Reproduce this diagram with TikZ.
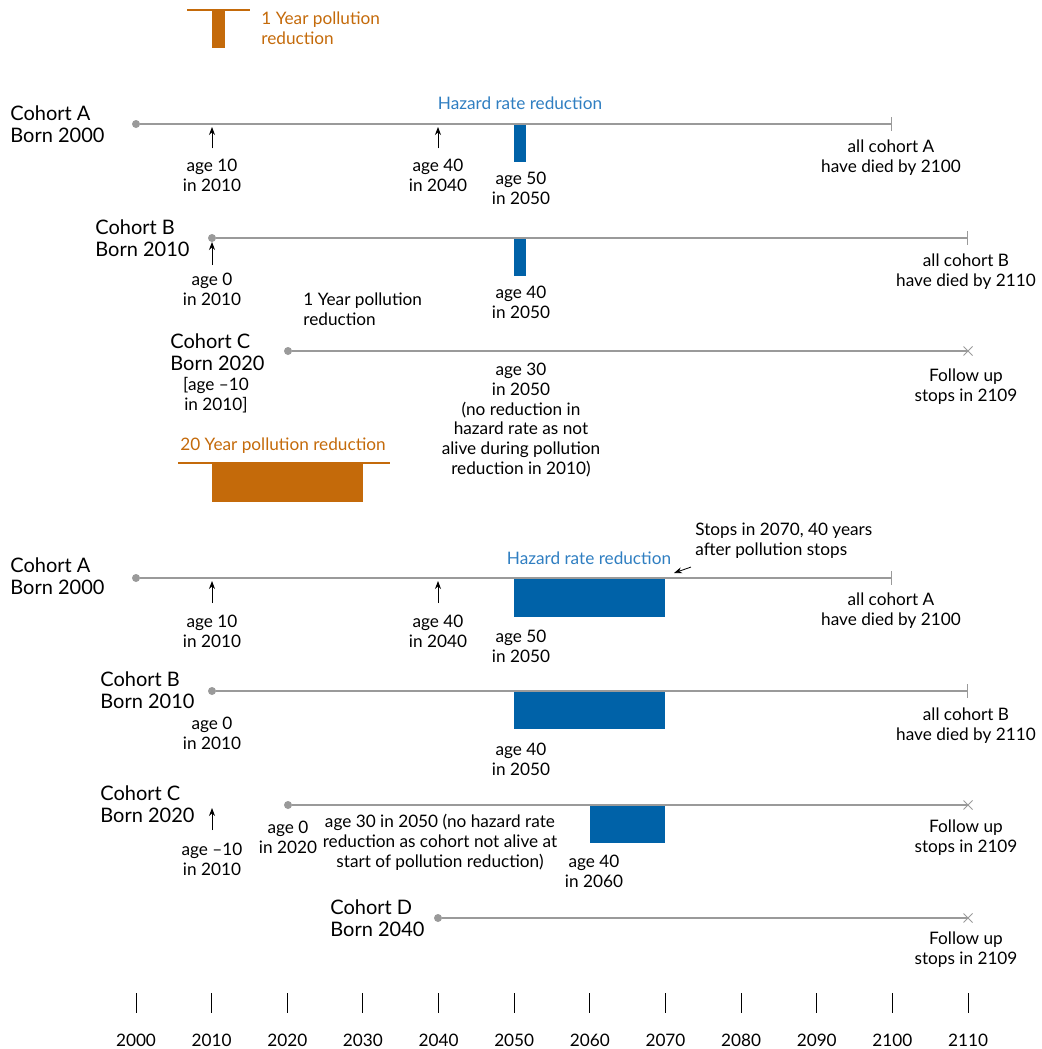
\documentclass[tikz,border=0pt]{standalone}
\usepackage{fontspec}
\setmainfont{Lato}
\usepackage{tikz}
\usetikzlibrary{arrows.meta, positioning, shapes.misc}
\definecolor{pollorange}{HTML}{C46A0A}
\definecolor{hazblue}{HTML}{0062A8}
\definecolor{hazlabel}{HTML}{2F7EC1}
\definecolor{lifegrey}{HTML}{9A9A9A}
\tikzset{>/.tip={Stealth[length=4pt,width=3pt]}}
\tikzset{|/.tip={Bar[width=7pt,line width=0.6pt]}}
\tikzset{
  cohort/.style={anchor=west, align=left, inner sep=0pt, font=\fontsize{10}{11}\selectfont},
  note/.style={align=center, inner sep=0pt, font=\fontsize{8.6}{9.9}\selectfont},
  lifeline/.style={draw=lifegrey, line width=0.6pt},
  born/.style={circle, fill=lifegrey, inner sep=0pt, minimum size=4pt},
  stopx/.style={cross out, draw=lifegrey, line width=0.5pt, inner sep=0pt, minimum size=4pt},
  hazard/.style={fill=hazblue},
  pollution/.style={fill=pollorange},
}

\begin{document}
\begin{tikzpicture}[x=0.5pt, y=-0.5pt]
\useasboundingbox (0,0) rectangle (1041,1049);

% one year of pollution
\draw[pollorange, line width=1pt] (187,10) -- (250,10);
\fill[pollution] (212,11) rectangle (225,48);
\node[note, anchor=west, align=left, text=pollorange] (py1) at (261,28) {1 Year pollution\\reduction};

% cohort A
\node[cohort] (ta) at (10,124) {Cohort A\\Born 2000};
\node[born] (ta0) at (136,124) {};
\coordinate (ta1) at (892,124);
\draw[lifeline, -|] (ta0) -- (ta1);
\node[note, text=hazlabel] (th) at (520,103) {Hazard rate reduction};
\node[note] (ta10) at (212,175) {age 10\\in 2010};
\node[note] (ta40) at (438,175) {age 40\\in 2040};
\draw[->] (ta10.north) ++(0,-10) coordinate (ta10p) -- (212,127);
\draw[->] (ta40.north) ++(0,-10) coordinate (ta40p) -- (438,127);
\fill[hazard] (514,125) rectangle (526,162);
\node[note] (ta50) at (521,188) {age 50\\in 2050};
\node[note] (taend) at (891,158) {all cohort A\\have died by 2100};

% cohort B
\node[cohort] (tb) at (95,238) {Cohort B\\Born 2010};
\node[born] (tb0) at (212,238) {};
\coordinate (tb1) at (968,238);
\draw[lifeline, -|] (tb0) -- (tb1);
\node[note] (tb00) at (212,289) {age 0\\in 2010};
\draw[->] (212,265) -- (212,242);
\fill[hazard] (514,239) rectangle (526,276);
\node[note] (tb40) at (521,302) {age 40\\in 2050};
\node[note] (tbend) at (966,272) {all cohort B\\have died by 2110};
\node[note, anchor=west, align=left] (py1b) at (303,309) {1 Year pollution\\reduction};

% cohort C
\node[cohort] (tc) at (170,352) {Cohort C\\Born 2020};
\node[note] (tcm10) at (216,395) {[age –10\\in 2010]};
\node[born] (tc0) at (288,351) {};
\node[stopx] (tc1) at (968,351) {};
\draw[lifeline] (tc0) -- (tc1.center);
\node[note] (tc30) at (521,420) {age 30\\in 2050\\(no reduction in\\hazard rate as not\\alive during pollution\\reduction in 2010)};
\node[note] (tcend) at (966,387) {Follow up\\stops in 2109};

% twenty years of pollution
\node[note, text=pollorange] (py20) at (283,446) {20 Year pollution reduction};
\draw[pollorange, line width=1pt] (178,463) -- (390,463);
\fill[pollution] (212,464) rectangle (363,502);

% cohort A, long reduction
\node[cohort] (ba) at (10,576) {Cohort A\\Born 2000};
\node[born] (ba0) at (136,578) {};
\coordinate (ba1) at (892,578);
\draw[lifeline, -|] (ba0) -- (ba1);
\node[note] (ba10) at (212,631) {age 10\\in 2010};
\node[note] (ba40) at (438,631) {age 40\\in 2040};
\draw[->] (212,603) -- (212,581);
\draw[->] (438,603) -- (438,581);
\fill[hazard] (514,579) rectangle (665,617);
\node[note] (ba50) at (521,646) {age 50\\in 2050};
\node[note, text=hazlabel] (bh) at (589,558) {Hazard rate reduction};
\node[note, anchor=west, align=left] (bstop) at (695,541) {Stops in 2070, 40 years\\after pollution stops};
\coordinate (bstopp) at (674,573);
\draw[->] (bstop.south west) ++(-4,8) -- (bstopp);
\node[note] (baend) at (891,611) {all cohort A\\have died by 2100};

% cohort B, long reduction
\node[cohort] (bb) at (100,690) {Cohort B\\Born 2010};
\node[born] (bb0) at (212,691) {};
\coordinate (bb1) at (968,691);
\draw[lifeline, -|] (bb0) -- (bb1);
\node[note] (bb00) at (212,733) {age 0\\in 2010};
\fill[hazard] (514,692) rectangle (665,729);
\node[note] (bb40) at (521,759) {age 40\\in 2050};
\node[note] (bbend) at (966,726) {all cohort B\\have died by 2110};

% cohort C, long reduction
\node[cohort] (bc) at (100,804) {Cohort C\\Born 2020};
\node[born] (bc0) at (288,805) {};
\node[stopx] (bc1) at (968,805) {};
\draw[lifeline] (bc0) -- (bc1.center);
\node[note] (bcm10) at (212,859) {age –10\\in 2010};
\draw[->] (212,830) -- (212,808);
\node[note] (bc00) at (288,837) {age 0\\in 2020};
\node[note] (bc30) at (440,842) {age 30 in 2050 (no hazard rate\\reduction as cohort not alive at\\start of pollution reduction)};
\fill[hazard] (590,806) rectangle (665,843);
\node[note] (bc40) at (594,871) {age 40\\in 2060};
\node[note] (bcend) at (966,838) {Follow up\\stops in 2109};

% cohort D
\node[cohort] (bd) at (330,918) {Cohort D\\Born 2040};
\node[born] (bd0) at (438,918) {};
\node[stopx] (bd1) at (968,918) {};
\draw[lifeline] (bd0) -- (bd1.center);
\node[note] (bdend) at (966,950) {Follow up\\stops in 2109};

% year axis
\foreach \i in {0,...,11} {
  \pgfmathsetmacro{\xx}{136+75.64*\i}
  \pgfmathtruncatemacro{\yr}{2000+10*\i}
  \draw[line width=0.5pt] (\xx,993) -- (\xx,1013);
  \node[note] (yr\i) at (\xx,1040) {\yr};
}
\end{tikzpicture}
\end{document}
